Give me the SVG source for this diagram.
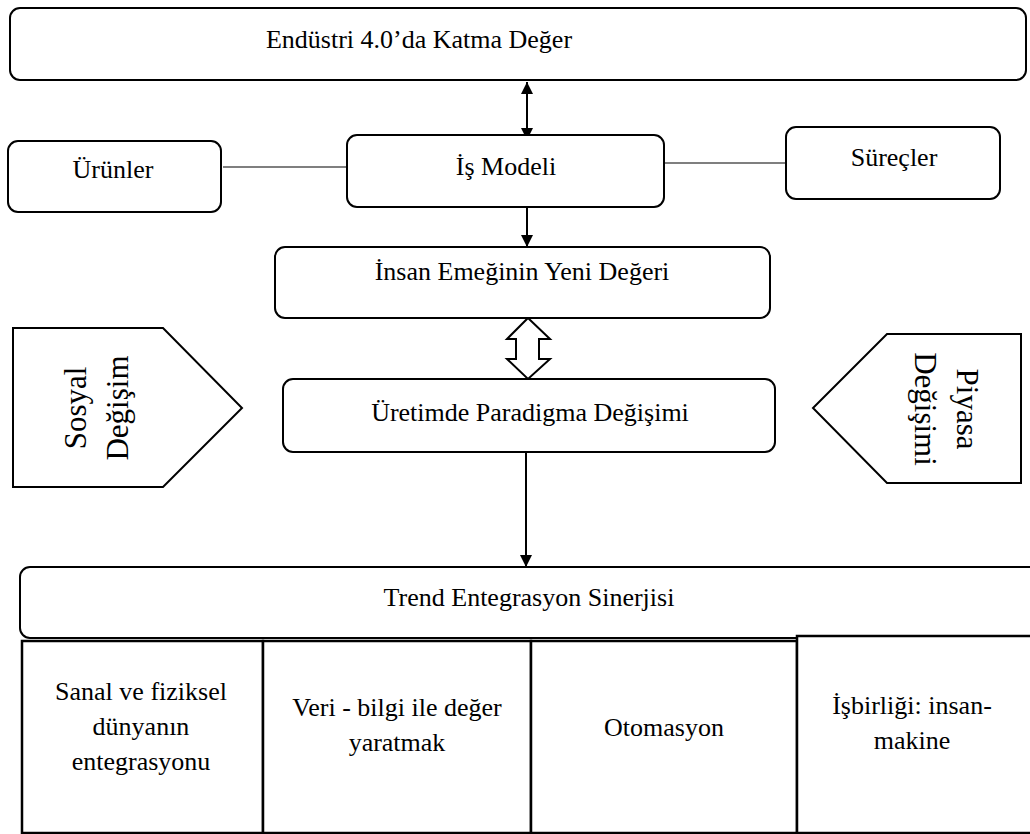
<svg xmlns="http://www.w3.org/2000/svg" width="1030" height="834" viewBox="0 0 1030 834">
<style>
.box{fill:#fff;stroke:#000;stroke-width:2}
.cell{fill:#fff;stroke:#000;stroke-width:2.5}
text{font-family:'Liberation Serif','Times New Roman',serif;fill:#000;text-anchor:middle}
.t{font-size:26px}
.tr{font-size:31px}
.ln{stroke:#000;stroke-width:2;fill:none}
.thin{stroke:#000;stroke-width:1.2;fill:none}
</style>
<defs>
<marker id="ah" viewBox="0 0 12 16" refX="12" refY="8" markerWidth="12" markerHeight="16" markerUnits="userSpaceOnUse" orient="auto">
<path d="M0,2 L12,8 L0,14 Z" fill="#000"/>
</marker>
<marker id="ahs" viewBox="0 0 12 16" refX="0" refY="8" markerWidth="12" markerHeight="16" markerUnits="userSpaceOnUse" orient="auto">
<path d="M12,2 L0,8 L12,14 Z" fill="#000"/>
</marker>
</defs>
<rect width="1030" height="834" fill="#fff"/>

<g id="connectors">
<line class="ln" x1="527" y1="82" x2="527" y2="140" marker-start="url(#ahs)" marker-end="url(#ah)"/>
<line class="thin" x1="223" y1="167" x2="348" y2="167"/>
<line class="thin" x1="665" y1="163" x2="786" y2="163"/>
<line class="ln" x1="527" y1="207" x2="527" y2="247" marker-end="url(#ah)"/>
<polygon points="528,318 550,339 539,339 539,359 550,359 528,379 507,359 516,359 516,339 507,339" fill="#fff" stroke="#000" stroke-width="2"/>
<line class="ln" x1="526" y1="452" x2="526" y2="567" marker-end="url(#ah)"/>
</g>

<g id="n-top">
<rect class="box" x="10" y="8" width="1016" height="72" rx="10"/>
<text class="t" x="419" y="48">Endüstri 4.0’da Katma Değer</text>
</g>
<g id="n-urunler">
<rect class="box" x="8" y="141" width="213" height="71" rx="10"/>
<text class="t" x="113" y="178">Ürünler</text>
</g>
<g id="n-ismodeli">
<rect class="box" x="347" y="135" width="317" height="72" rx="10"/>
<text class="t" x="506" y="175">İş Modeli</text>
</g>
<g id="n-surecler">
<rect class="box" x="786" y="127" width="214" height="72" rx="10"/>
<text class="t" x="894" y="166">Süreçler</text>
</g>
<g id="n-insan">
<rect class="box" x="275" y="247" width="495" height="71" rx="10"/>
<text class="t" x="522" y="280">İnsan Emeğinin Yeni Değeri</text>
</g>
<g id="n-uretim">
<rect class="box" x="283" y="379" width="492" height="73" rx="10"/>
<text class="t" x="530" y="421">Üretimde Paradigma Değişimi</text>
</g>
<g id="n-sosyal">
<polygon class="box" points="13,328 163,328 242,408 163,487 13,487"/>
<text class="tr" transform="translate(86,408) rotate(-90)">Sosyal</text>
<text class="tr" transform="translate(128,408) rotate(-90)">Değişim</text>
</g>
<g id="n-piyasa">
<polygon class="box" points="887,334 1021,334 1021,483 887,483 813,408"/>
<text class="tr" transform="translate(957,409) rotate(90)">Piyasa</text>
<text class="tr" transform="translate(915,409) rotate(90)">Değişimi</text>
</g>
<g id="n-trend">
<rect class="box" x="20" y="567" width="1020" height="71" rx="10"/>
<text class="t" x="529" y="606">Trend Entegrasyon Sinerjisi</text>
</g>
<g id="n-cell1">
<rect class="cell" x="22" y="641" width="241" height="192"/>
<text class="t" x="141" y="700">Sanal ve fiziksel</text>
<text class="t" x="141" y="735">dünyanın</text>
<text class="t" x="141" y="770">entegrasyonu</text>
</g>
<g id="n-cell2">
<rect class="cell" x="263" y="641" width="268" height="192"/>
<text class="t" x="397" y="716">Veri - bilgi ile değer</text>
<text class="t" x="397" y="751">yaratmak</text>
</g>
<g id="n-cell3">
<rect class="cell" x="531" y="641" width="266" height="192"/>
<text class="t" x="664" y="736">Otomasyon</text>
</g>
<g id="n-cell4">
<rect class="cell" x="797" y="636" width="240" height="197"/>
<text class="t" x="912" y="714">İşbirliği: insan-</text>
<text class="t" x="912" y="749">makine</text>
</g>
</svg>
